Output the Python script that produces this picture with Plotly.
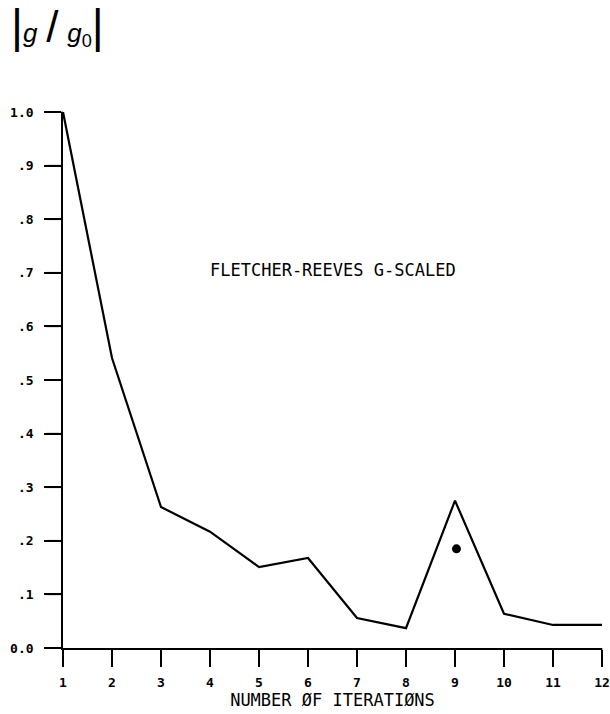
import plotly.graph_objects as go

# Gradient-norm ratio per iteration
iterations = [1, 2, 3, 4, 5, 6, 7, 8, 9, 10, 11, 12]
g_ratio = [1.0, 0.541, 0.263, 0.217, 0.151, 0.168, 0.056, 0.037, 0.275, 0.064, 0.043, 0.043]

# Single isolated point plotted near iteration 9
dot_x = [9.03]
dot_y = [0.185]

y_tickvals = [0.0, 0.1, 0.2, 0.3, 0.4, 0.5, 0.6, 0.7, 0.8, 0.9, 1.0]
y_ticktext = ["0.0", ".1", ".2", ".3", ".4", ".5", ".6", ".7", ".8", ".9", "1.0"]
x_tickvals = iterations
x_ticktext = [str(v) for v in iterations]

MONO = "DejaVu Sans Mono"
NBSP = "\u00a0"

X_RANGE = [1, 12]
Y_RANGE = [0, 1.0]
TICK_PX = 17
PLOT_W, PLOT_H = 539, 536


def frac(v, rng):
    return (v - rng[0]) / (rng[1] - rng[0])


# Outward tick marks as unclipped paper-referenced shapes
tick_shapes = []
for v in x_tickvals:
    px = frac(v, X_RANGE)
    tick_shapes.append(dict(
        type="line", xref="paper", yref="paper",
        x0=px, x1=px, y0=0, y1=-TICK_PX / PLOT_H,
        line=dict(color="black", width=2), layer="above"))
for v in y_tickvals:
    py = frac(v, Y_RANGE)
    tick_shapes.append(dict(
        type="line", xref="paper", yref="paper",
        x0=0, x1=-TICK_PX / PLOT_W, y0=py, y1=py,
        line=dict(color="black", width=2), layer="above"))

fig = go.Figure()
fig.add_trace(go.Scatter(
    x=iterations, y=g_ratio, mode="lines",
    line=dict(color="black", width=2.2),
    cliponaxis=False, showlegend=False,
))
fig.add_trace(go.Scatter(
    x=dot_x, y=dot_y, mode="markers",
    marker=dict(color="black", size=9),
    showlegend=False,
))

fig.update_layout(
    template="simple_white",
    width=610, height=714,
    margin=dict(l=63, r=8, t=112, b=66),
    paper_bgcolor="white", plot_bgcolor="white",
    shapes=tick_shapes,
    xaxis=dict(
        range=X_RANGE, tickmode="array", tickvals=x_tickvals,
        ticktext=["<b>%s</b>" % t for t in x_ticktext],
        ticks="outside", ticklen=TICK_PX, tickwidth=2, tickcolor="black",
        showline=True, linecolor="black", linewidth=2,
        showgrid=False, zeroline=False, automargin=False,
        tickfont=dict(family=MONO, size=13, color="black"),
        ticklabelstandoff=4,
        title=dict(text="NUMBER ØF ITERATIØNS",
                   font=dict(family=MONO, size=17, color="black"),
                   standoff=4),
    ),
    yaxis=dict(
        range=Y_RANGE, tickmode="array", tickvals=y_tickvals,
        ticktext=["<b>%s</b>%s" % (t, NBSP) for t in y_ticktext],
        ticks="outside", ticklen=TICK_PX, tickwidth=2, tickcolor="black",
        showline=True, linecolor="black", linewidth=2,
        showgrid=False, zeroline=False, automargin=False,
        tickfont=dict(family=MONO, size=13, color="black"),
    ),
    annotations=[
        dict(x=6.5, y=0.705, xref="x", yref="y",
             text="FLETCHER-REEVES G-SCALED", showarrow=False,
             font=dict(family=MONO, size=17, color="black"),
             xanchor="center", yanchor="middle"),
        dict(x=-0.011, y=1.16, xref="paper", yref="paper",
             text='<span style="font-size:46px">|</span><i>g</i>'
                  '<span style="font-size:44px">\u2009/\u2009</span>'
                  '<i>g</i><sub>0</sub>'
                  '<span style="font-size:46px">|</span>',
             showarrow=False,
             font=dict(family="Liberation Sans", size=26, color="black"),
             xanchor="center", yanchor="middle"),
    ],
)

fig.write_html("out.html")
